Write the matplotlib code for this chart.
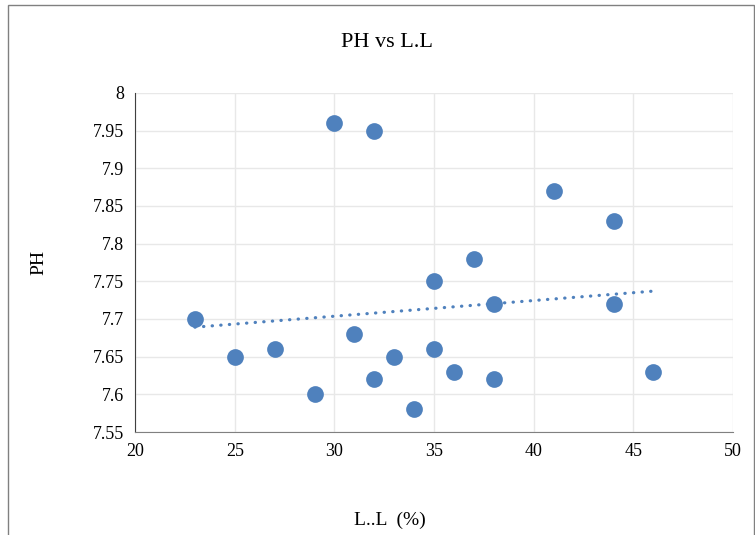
import numpy as np
import matplotlib.pyplot as plt
from matplotlib.patches import Rectangle

# data
ll = [23, 25, 27, 29, 30, 31, 32, 32, 33, 34, 35, 35, 36, 37, 38, 38, 41, 44, 44, 46]
ph = [7.70, 7.65, 7.66, 7.60, 7.96, 7.68, 7.95, 7.62, 7.65, 7.58,
      7.75, 7.66, 7.63, 7.78, 7.72, 7.62, 7.87, 7.83, 7.72, 7.63]
x_ticks = [20, 25, 30, 35, 40, 45, 50]
y_ticks = [7.55, 7.6, 7.65, 7.7, 7.75, 7.8, 7.85, 7.9, 7.95, 8]

plt.rcParams['font.family'] = ['Liberation Serif', 'DejaVu Serif']
blue = '#4f81bd'

fig = plt.figure(figsize=(7.55, 5.35), dpi=100)
ax = fig.add_axes([0.179, 0.1925, 0.792, 0.634])

ax.scatter(ll, ph, s=145, color=blue, zorder=3, linewidths=0)

# linear trendline
k, b = np.polyfit(ll, ph, 1)
xs = np.array([min(ll), max(ll)])
ax.plot(xs, k * xs + b, linestyle=(0, (0.1, 2.6)), color=blue, linewidth=2.3,
        dash_capstyle='round', zorder=2)

ax.set_xlim(20, 50)
ax.set_ylim(7.55, 8)
ax.set_xticks(x_ticks)
ax.set_yticks(y_ticks)
ax.set_yticklabels([f'{v:g}' for v in y_ticks])
ax.tick_params(length=0, labelsize=13, pad=8)
ax.grid(True, color='#e8e8e8', linewidth=1)
ax.set_axisbelow(True)
for s in ['top', 'right']:
    ax.spines[s].set_visible(False)
ax.spines['left'].set_color('#404040')
ax.spines['bottom'].set_color('#808080')

fig.text(0.513, 0.92, 'PH vs L.L', ha='center', va='center', fontsize=16)
fig.text(0.052, 0.51, 'PH', ha='center', va='center', rotation=90, fontsize=14)
fig.text(0.517, 0.027, 'L..L  (%)', ha='center', va='center', fontsize=14)

# outer chart border
fig.patches.append(Rectangle((0.011, -0.01), 0.988, 1.0, transform=fig.transFigure,
                             fill=False, edgecolor='#808080', linewidth=1))

fig.savefig('out.png', dpi=100)
